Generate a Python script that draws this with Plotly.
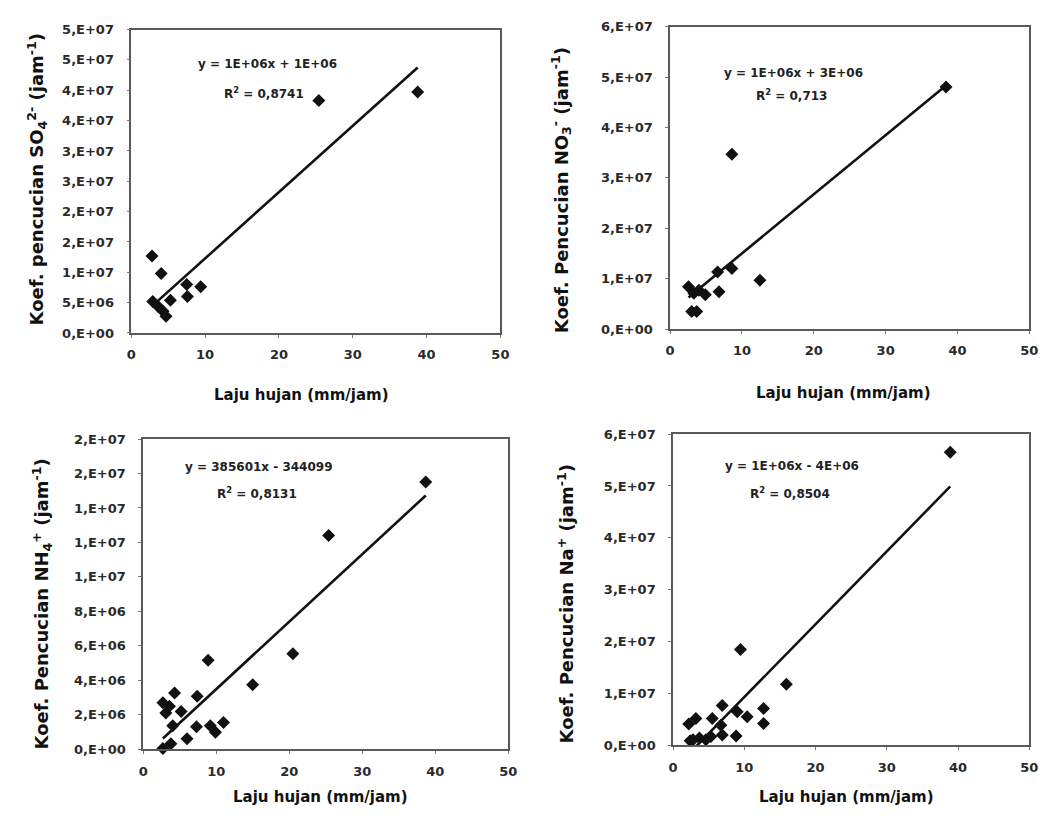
import numpy as np
import plotly.graph_objects as go

# ---------------- data ----------------
so4_x = [2.8, 2.9, 3.6, 4.05, 4.3, 4.7, 5.3, 7.5, 7.6, 9.4, 25.4, 38.8]
so4_y = [12.7e6, 5.2e6, 4.4e6, 9.8e6, 3.6e6, 2.75e6, 5.4e6, 8.0e6, 6.0e6, 7.6e6, 38.3e6, 39.7e6]

no3_x = [2.56, 3.0, 3.3, 3.7, 4.0, 4.9, 6.6, 6.8, 8.6, 8.6, 12.5, 38.4]
no3_y = [8.4e6, 3.5e6, 7.1e6, 3.5e6, 7.7e6, 6.8e6, 11.3e6, 7.4e6, 34.7e6, 12.0e6, 9.7e6, 48.0e6]

nh4_x = [2.7, 2.7, 3.1, 3.6, 3.8, 4.05, 4.3, 5.2, 6.0, 7.3, 7.4, 9.2, 8.9, 9.9, 11.0, 15.0, 20.5, 25.4, 38.7]
nh4_y = [2.7e6, 0.04e6, 2.1e6, 2.5e6, 0.32e6, 1.37e6, 3.27e6, 2.2e6, 0.61e6, 1.31e6, 3.08e6, 1.37e6,
         5.17e6, 0.99e6, 1.56e6, 3.75e6, 5.55e6, 12.4e6, 15.5e6]

na_x = [2.2, 2.4, 2.8, 3.2, 3.7, 4.6, 5.3, 5.5, 6.7, 6.9, 6.9, 8.85, 9.0, 9.45, 10.4, 12.7, 12.7, 15.9, 38.9]
na_y = [4.1e6, 0.9e6, 1.07e6, 5.2e6, 1.4e6, 1.07e6, 1.7e6, 5.2e6, 3.9e6, 7.7e6, 2.0e6, 1.8e6, 6.5e6,
        18.5e6, 5.5e6, 7.1e6, 4.2e6, 11.8e6, 56.5e6]

x_ticks = [0, 10, 20, 30, 40, 50]

so4_ticks = [0, 5e6, 1e7, 1.5e7, 2e7, 2.5e7, 3e7, 3.5e7, 4e7, 4.5e7, 5e7]
so4_labels = ["0,E+00", "5,E+06", "1,E+07", "2,E+07", "2,E+07", "3,E+07", "3,E+07",
              "4,E+07", "4,E+07", "5,E+07", "5,E+07"]
no3_ticks = [0, 1e7, 2e7, 3e7, 4e7, 5e7, 6e7]
no3_labels = ["0,E+00", "1,E+07", "2,E+07", "3,E+07", "4,E+07", "5,E+07", "6,E+07"]
nh4_ticks = [0, 2e6, 4e6, 6e6, 8e6, 1e7, 1.2e7, 1.4e7, 1.6e7, 1.8e7]
nh4_labels = ["0,E+00", "2,E+06", "4,E+06", "6,E+06", "8,E+06", "1,E+07", "1,E+07",
              "1,E+07", "2,E+07", "2,E+07"]
na_ticks = [0, 1e7, 2e7, 3e7, 4e7, 5e7, 6e7]
na_labels = ["0,E+00", "1,E+07", "2,E+07", "3,E+07", "4,E+07", "5,E+07", "6,E+07"]

eq_texts = ["y = 1E+06x + 1E+06", "y = 1E+06x + 3E+06", "y = 385601x - 344099", "y = 1E+06x - 4E+06"]
r2_texts = ["R<sup>2</sup> = 0,8741", "R<sup>2</sup> = 0,713", "R<sup>2</sup> = 0,8131", "R<sup>2</sup> = 0,8504"]

y_titles = ["Koef. pencucian SO<sub>4</sub><sup>2-</sup> (jam<sup>-1</sup>)",
            "Koef. Pencucian NO<sub>3</sub><sup>-</sup> (jam<sup>-1</sup>)",
            "Koef. Pencucian NH<sub>4</sub><sup>+</sup> (jam<sup>-1</sup>)",
            "Koef. Pencucian Na<sup>+</sup> (jam<sup>-1</sup>)"]
x_title = "Laju hujan (mm/jam)"

# ---------------- layout geometry ----------------
W, H = 1063, 828
FONT = "DejaVu Sans"
panels = [
    dict(x=so4_x, y=so4_y, ticks=so4_ticks, labels=so4_labels, yr=[0, 5e7],
         px=(128, 502), py=(23, 332), eq=(266, 58), r2=(262, 88), xt=(300, 395), yt=(32, 176)),
    dict(x=no3_x, y=no3_y, ticks=no3_ticks, labels=no3_labels, yr=[0, 6e7],
         px=(674, 1038), py=(20, 328), eq=(799, 67), r2=(797, 90), xt=(850, 393), yt=(563, 187)),
    dict(x=nh4_x, y=nh4_y, ticks=nh4_ticks, labels=nh4_labels, yr=[0, 1.8e7],
         px=(140, 510), py=(440, 756), eq=(257, 468), r2=(255, 495), xt=(320, 805), yt=(37, 608)),
    dict(x=na_x, y=na_y, ticks=na_ticks, labels=na_labels, yr=[0, 6e7],
         px=(677, 1038), py=(435, 752), eq=(797, 467), r2=(795, 495), xt=(853, 805), yt=(568, 608)),
]

tick_font = dict(family=FONT, size=13, color="#2a2a2a", weight="bold")

fig = go.Figure()
annotations = []
layout_axes = {}
for i, p in enumerate(panels):
    n = i + 1
    xa = "x" if n == 1 else f"x{n}"
    ya = "y" if n == 1 else f"y{n}"
    fig.add_trace(go.Scatter(x=p["x"], y=p["y"], mode="markers", xaxis=xa, yaxis=ya,
                             marker=dict(symbol="diamond", size=10, color="#111111"),
                             showlegend=False, cliponaxis=False))
    # linear trend line (least squares on the data)
    xs = np.array(p["x"], dtype=float)
    ys = np.array(p["y"], dtype=float)
    k, b = np.polyfit(xs, ys, 1)
    lx = np.array([xs.min(), xs.max()])
    fig.add_trace(go.Scatter(x=lx, y=k * lx + b, mode="lines", xaxis=xa, yaxis=ya,
                             line=dict(color="#111111", width=2.6), showlegend=False))
    xd = [p["px"][0] / W, p["px"][1] / W]
    yd = [1 - p["py"][1] / H, 1 - p["py"][0] / H]
    xkey = "xaxis" if n == 1 else f"xaxis{n}"
    ykey = "yaxis" if n == 1 else f"yaxis{n}"
    layout_axes[xkey] = dict(domain=xd, anchor=ya, range=[0, 50], tickvals=x_ticks,
                             showline=True, linecolor="#5a5a5a", linewidth=1.5, mirror=True,
                             showgrid=False, zeroline=False, ticks="outside", ticklen=3,
                             tickcolor="#777777", ticklabelstandoff=6, tickfont=tick_font)
    layout_axes[ykey] = dict(domain=yd, anchor=xa, range=p["yr"], tickvals=p["ticks"],
                             ticktext=p["labels"], showline=True, linecolor="#5a5a5a",
                             linewidth=1.5, mirror=True, showgrid=False, zeroline=False,
                             ticks="outside", ticklen=3, tickcolor="#777777",
                             ticklabelstandoff=10, tickfont=tick_font)
    for key, txt in (("eq", eq_texts[i]), ("r2", r2_texts[i])):
        cx, cy = p[key]
        annotations.append(dict(x=cx / W, y=1 - cy / H, xref="paper", yref="paper",
                                text=f"<b>{txt}</b>", showarrow=False, xanchor="center",
                                yanchor="middle",
                                font=dict(family=FONT, size=12, color="#222222")))
    annotations.append(dict(x=p["xt"][0] / W, y=1 - p["xt"][1] / H, xref="paper", yref="paper",
                            text=f"<b>{x_title}</b>", showarrow=False, xanchor="center",
                            yanchor="middle", font=dict(family=FONT, size=15, color="#111111")))
    annotations.append(dict(x=p["yt"][0] / W, y=1 - p["yt"][1] / H, xref="paper", yref="paper",
                            text=f"<b>{y_titles[i]}</b>", showarrow=False, xanchor="center",
                            yanchor="middle", textangle=-90,
                            font=dict(family=FONT, size=18, color="#111111")))

fig.update_layout(width=W, height=H, margin=dict(l=0, r=0, t=0, b=0),
                  paper_bgcolor="white", plot_bgcolor="white",
                  annotations=annotations, **layout_axes)

fig.write_html("out.html")
